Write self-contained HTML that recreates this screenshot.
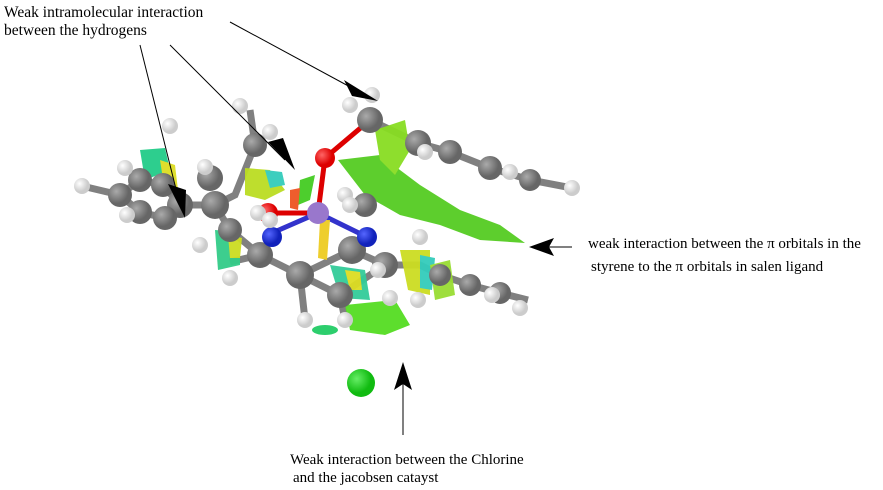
<!DOCTYPE html>
<html><head><meta charset="utf-8"><style>
body{margin:0;background:#fff;width:883px;height:490px;overflow:hidden}
svg{display:block}
text{font-family:"Liberation Serif",serif;font-size:15px;fill:#000}
</style></head><body>
<svg width="883" height="490" viewBox="0 0 883 490">
<defs>
<radialGradient id="c" cx="35%" cy="35%"><stop offset="0" stop-color="#aaa"/><stop offset="1" stop-color="#666"/></radialGradient>
<radialGradient id="h" cx="35%" cy="35%"><stop offset="0" stop-color="#fff"/><stop offset="1" stop-color="#ccc"/></radialGradient>
<radialGradient id="o" cx="35%" cy="35%"><stop offset="0" stop-color="#f66"/><stop offset="1" stop-color="#d00"/></radialGradient>
<radialGradient id="n" cx="35%" cy="35%"><stop offset="0" stop-color="#56f"/><stop offset="1" stop-color="#12b"/></radialGradient>
<radialGradient id="cl" cx="35%" cy="35%"><stop offset="0" stop-color="#6e6"/><stop offset="1" stop-color="#1b1"/></radialGradient>
</defs>
<g stroke="#808080" stroke-width="7" fill="none">
<path d="M82,186 L120,195 L140,180 L163,185 L180,205 L165,218 L140,212 L120,195"/>
<path d="M180,205 L215,205 L235,195 L255,145 L250,110"/>
<path d="M215,205 L230,230 L260,255 L300,275 L340,295 L385,265 L352,250 L300,275"/>
<path d="M370,120 L418,143 L450,152 L490,168 L530,180 L572,188"/>
<path d="M385,265 L420,265 L440,275 L470,285 L500,293 L528,300"/>
<path d="M260,255 L230,262 M300,275 L305,320 M340,295 L345,320"/>
</g>
<g stroke-width="5" fill="none">
<path d="M325,158 L370,120" stroke="#d00"/>
<path d="M318,213 L325,158 M268,213 L318,213" stroke="#d00"/>
<path d="M272,233 L318,213 L367,237" stroke="#33c"/>
</g>
<g opacity="0.95">
<path d="M338,160 L380,155 L420,185 L460,210 L500,225 L525,243 L480,240 L440,225 L400,215 L365,195 Z" fill="#5c2"/>
<path d="M375,130 L405,120 L410,150 L395,175 L380,160 Z" fill="#8d2"/>
<path d="M140,150 L165,148 L170,170 L145,180 Z" fill="#2c8"/>
<path d="M160,160 L175,165 L178,190 L165,192 Z" fill="#dd2"/>
<path d="M245,168 L270,170 L285,190 L265,200 L245,195 Z" fill="#bd2"/>
<path d="M265,170 L282,172 L285,185 L270,188 Z" fill="#3cb"/>
<path d="M215,230 L240,232 L240,265 L218,270 Z" fill="#3c8"/>
<path d="M228,235 L242,238 L240,258 L230,258 Z" fill="#cd2"/>
<path d="M345,305 L395,300 L410,325 L385,335 L350,330 Z" fill="#5d2"/>
<path d="M400,250 L430,250 L430,295 L408,290 Z" fill="#cd2"/>
<path d="M420,255 L435,258 L432,290 L420,288 Z" fill="#3cb"/>
<path d="M430,265 L450,260 L455,295 L435,300 Z" fill="#9d3"/>
<ellipse cx="325" cy="330" rx="13" ry="5" fill="#2c6"/>
<path d="M300,180 L315,175 L310,200 L298,205 Z" fill="#4c2"/>
<path d="M290,190 L300,188 L298,210 L290,208 Z" fill="#e52"/>
<path d="M320,220 L330,220 L327,260 L318,258 Z" fill="#ec2"/>
<path d="M330,265 L365,270 L370,300 L340,298 Z" fill="#3c9"/>
<path d="M345,270 L360,272 L362,290 L350,290 Z" fill="#dd2"/>
</g>
<g fill="url(#c)">
<circle cx="120" cy="195" r="12"/><circle cx="140" cy="180" r="12"/><circle cx="163" cy="185" r="12"/>
<circle cx="180" cy="205" r="13"/><circle cx="165" cy="218" r="12"/><circle cx="140" cy="212" r="12"/>
<circle cx="215" cy="205" r="14"/><circle cx="210" cy="178" r="13"/><circle cx="255" cy="145" r="12"/>
<circle cx="230" cy="230" r="12"/><circle cx="260" cy="255" r="13"/><circle cx="300" cy="275" r="14"/>
<circle cx="340" cy="295" r="13"/><circle cx="352" cy="250" r="14"/><circle cx="385" cy="265" r="13"/>
<circle cx="370" cy="120" r="13"/><circle cx="418" cy="143" r="13"/><circle cx="450" cy="152" r="12"/>
<circle cx="490" cy="168" r="12"/><circle cx="530" cy="180" r="11"/><circle cx="365" cy="205" r="12"/>
<circle cx="440" cy="275" r="11"/><circle cx="470" cy="285" r="11"/><circle cx="500" cy="293" r="11"/>
</g>
<g fill="url(#o)"><circle cx="325" cy="158" r="10"/><circle cx="268" cy="213" r="10"/></g>
<g fill="url(#n)"><circle cx="272" cy="237" r="10"/><circle cx="367" cy="237" r="10"/></g>
<circle cx="318" cy="213" r="11" fill="#97c"/>
<circle cx="361" cy="383" r="14" fill="url(#cl)"/>
<g fill="url(#h)">
<circle cx="82" cy="186" r="8"/><circle cx="125" cy="168" r="8"/><circle cx="127" cy="215" r="8"/>
<circle cx="170" cy="126" r="8"/><circle cx="200" cy="245" r="8"/><circle cx="205" cy="167" r="8"/>
<circle cx="240" cy="106" r="8"/><circle cx="270" cy="132" r="8"/><circle cx="258" cy="213" r="8"/>
<circle cx="230" cy="278" r="8"/><circle cx="305" cy="320" r="8"/><circle cx="345" cy="320" r="8"/>
<circle cx="372" cy="95" r="8"/><circle cx="350" cy="105" r="8"/><circle cx="425" cy="152" r="8"/>
<circle cx="510" cy="172" r="8"/><circle cx="572" cy="188" r="8"/><circle cx="345" cy="195" r="8"/>
<circle cx="350" cy="205" r="8"/><circle cx="420" cy="237" r="8"/><circle cx="390" cy="298" r="8"/>
<circle cx="378" cy="270" r="8"/><circle cx="492" cy="295" r="8"/><circle cx="520" cy="308" r="8"/>
<circle cx="418" cy="300" r="8"/><circle cx="270" cy="220" r="8"/>
</g>
<g stroke="#000" stroke-width="1">
<line x1="140" y1="45" x2="180" y2="205"/>
<line x1="170" y1="45" x2="285" y2="160"/>
<line x1="230" y1="22" x2="365" y2="95"/>
<line x1="572" y1="247" x2="545" y2="247"/>
<line x1="403" y1="435" x2="403" y2="380"/>
</g>
<g fill="#000">
<polygon points="185,218 168,184 186,190"/>
<polygon points="295,170 268,142 283,138"/>
<polygon points="378,101 344,80 352,96"/>
<polygon points="529,247 554,238 549,247 554,256"/>
<polygon points="403,362 394,390 403,384 412,390"/>
</g>
<text x="4" y="17" style="font-size:15.5px">Weak intramolecular interaction</text>
<text x="4" y="35" style="font-size:15.5px">between the hydrogens</text>
<text x="588" y="248">weak interaction between the π orbitals in the</text>
<text x="591" y="271">styrene to the π  orbitals in salen ligand</text>
<text x="290" y="464">Weak interaction between the Chlorine</text>
<text x="293" y="482">and the jacobsen catayst</text>
</svg>
</body></html>
